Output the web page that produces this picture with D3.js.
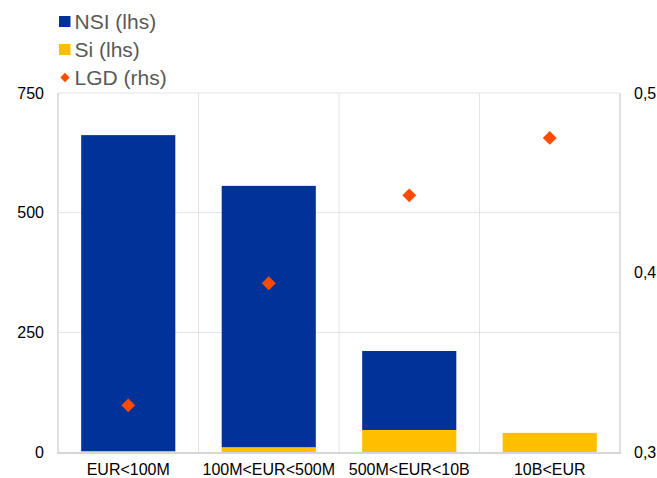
<!DOCTYPE html>
<html><head><meta charset="utf-8">
<script src="https://cdn.jsdelivr.net/npm/d3@7"></script>
<style>body{margin:0;background:#fff}svg{display:block;font-family:"Liberation Sans",Arial,sans-serif}</style>
</head><body><svg id="c" width="657" height="478"></svg>
<script>
const categories = ["EUR<100M","100M<EUR<500M","500M<EUR<10B","10B<EUR"];
const nsi = [660, 546, 165, 0];
const si = [2, 10, 46, 40];
const lgd = [0.326, 0.394, 0.443, 0.475];
const leftTicks = [0, 250, 500, 750];
const rightTicks = [0.3, 0.4, 0.5];
const rightTickLabels = ["0,3","0,4","0,5"];

const svg = d3.select("#c");
const m = {l:58, r:620, t:93, b:452};
const x = d3.scaleBand().domain(categories).range([m.l, m.r]).paddingInner(0.33).paddingOuter(0.165);
const xc = d3.scaleBand().domain(categories).range([m.l, m.r]);
const yL = d3.scaleLinear().domain([0,750]).range([m.b, m.t]);
const yR = d3.scaleLinear().domain([0.3,0.5]).range([m.b, m.t]);

// grid
const g = svg.append("g");
g.selectAll(".hg").data(leftTicks.filter(d=>d>0)).join("line")
  .attr("x1", m.l).attr("x2", m.r).attr("y1", d=>yL(d)).attr("y2", d=>yL(d))
  .attr("stroke", "#e3e3e3").attr("stroke-width", 1);
g.selectAll(".vg").data(categories.slice(1)).join("line")
  .attr("x1", d=>xc(d)).attr("x2", d=>xc(d)).attr("y1", m.t).attr("y2", m.b)
  .attr("stroke", "#e3e3e3").attr("stroke-width", 1);
g.append("line").attr("x1", m.l).attr("x2", m.l).attr("y1", m.t).attr("y2", m.b).attr("stroke","#d6d6d6").attr("stroke-width",1.5);
g.append("line").attr("x1", m.r).attr("x2", m.r).attr("y1", m.t).attr("y2", m.b).attr("stroke","#d6d6d6").attr("stroke-width",1.5);

// bars
const stackData = categories.map((c,i)=>({c, si:si[i], nsi:nsi[i]}));
svg.append("g").selectAll("rect").data(stackData).join("rect")
  .attr("x", d=>x(d.c)).attr("width", x.bandwidth())
  .attr("y", d=>yL(d.si)).attr("height", d=>yL(0)-yL(d.si)).attr("fill","#ffbf00");
svg.append("g").selectAll("rect").data(stackData.filter(d=>d.nsi>0)).join("rect")
  .attr("x", d=>x(d.c)).attr("width", x.bandwidth())
  .attr("y", d=>yL(d.si+d.nsi)).attr("height", d=>yL(d.si)-yL(d.si+d.nsi)).attr("fill","#003299");

// bottom axis line
svg.append("line").attr("x1", m.l-1).attr("x2", m.r+1).attr("y1", m.b+1).attr("y2", m.b+1).attr("stroke","#d6d6d6").attr("stroke-width",2);

// diamonds
const diamond = d3.symbol().type(d3.symbolDiamond2).size(122);
svg.append("g").selectAll("path").data(categories).join("path")
  .attr("d", diamond)
  .attr("transform", (d,i)=>`translate(${xc(d)+xc.bandwidth()/2},${yR(lgd[i])})`)
  .attr("fill", "#ff4b00");

// axes labels
svg.append("g").selectAll("text").data(leftTicks).join("text")
  .attr("x", 44).attr("y", d=>yL(d)).attr("dy","0.35em").attr("text-anchor","end")
  .attr("font-size", 16).attr("fill","#000").text(d=>d);
svg.append("g").selectAll("text").data(rightTicks).join("text")
  .attr("x", 634).attr("y", d=>yR(d)).attr("dy","0.35em").attr("text-anchor","start")
  .attr("font-size", 16).attr("fill","#000").text((d,i)=>rightTickLabels[i]);
svg.append("g").selectAll("text").data(categories).join("text")
  .attr("x", d=>xc(d)+xc.bandwidth()/2).attr("y", 475).attr("text-anchor","middle")
  .attr("font-size", 16).attr("fill","#000").text(d=>d);

// legend
const legendItems = [
  {label:"NSI (lhs)", color:"#003299", type:"sq"},
  {label:"Si (lhs)", color:"#ffbf00", type:"sq"},
  {label:"LGD (rhs)", color:"#ff4b00", type:"dm"}
];
const lg = svg.append("g");
legendItems.forEach((d,i)=>{
  const cy = 21.5 + i*28;
  if (d.type==="sq") lg.append("rect").attr("x",59).attr("y",cy-5.5).attr("width",11.5).attr("height",11).attr("fill",d.color);
  else lg.append("path").attr("d", d3.symbol().type(d3.symbolDiamond2).size(55)()).attr("transform",`translate(65,${cy})`).attr("fill",d.color);
  lg.append("text").attr("x",74.5).attr("y",cy).attr("dy","0.36em").attr("font-size",21).attr("fill","#595959").text(d.label);
});
</script></body></html>
